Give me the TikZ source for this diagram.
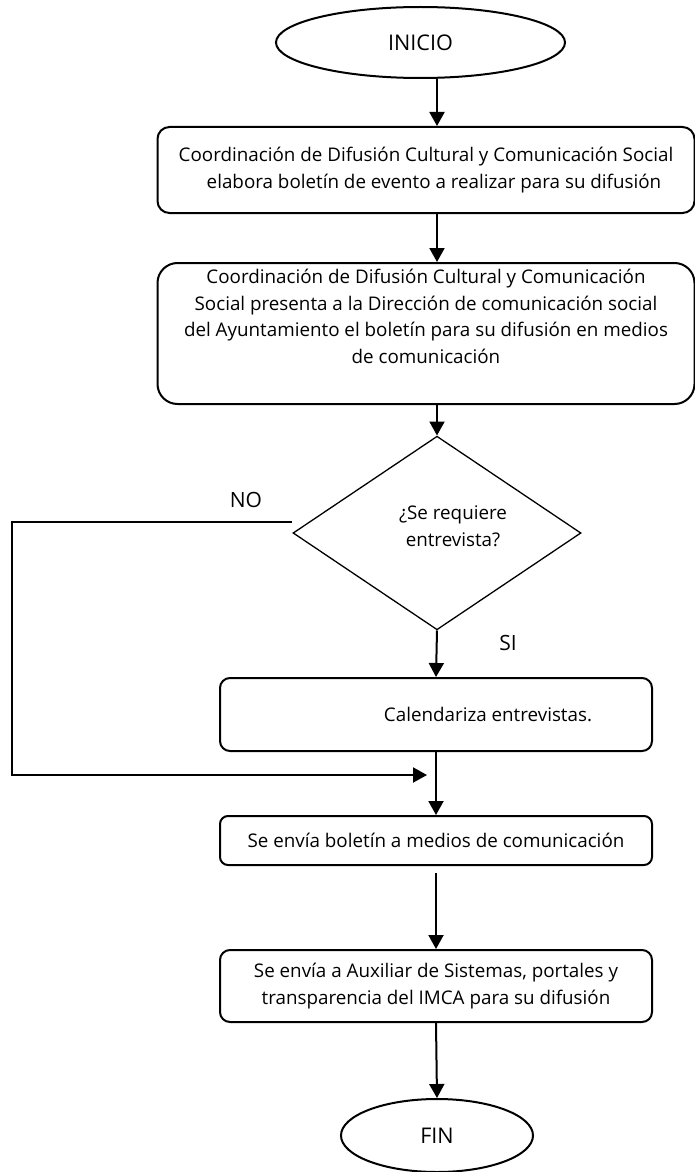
\documentclass[tikz,border=0pt]{standalone}
\usepackage{fontspec}
\setmainfont{Open Sans}
\usepackage{tikz}
\usetikzlibrary{arrows.meta,shapes.geometric,positioning}
\tikzstyle{arrow} = [line width=1pt,-{Triangle[length=7pt,width=7.5pt]}]
\tikzstyle{process} = [draw, line width=1pt, rounded corners=6pt, inner sep=0pt, align=center, font=\fontsize{9.4}{13.25}\selectfont]
\tikzstyle{startstop} = [draw, ellipse, line width=1pt, inner sep=0pt, font=\fontsize{10.8}{13.25}\selectfont]
\tikzstyle{decision} = [draw, diamond, line width=0.65pt, inner sep=0pt, align=center, font=\fontsize{9.4}{13.25}\selectfont]

\begin{document}
\begin{tikzpicture}[x=0.5pt,y=-0.5pt]
\useasboundingbox (0,0) rectangle (695,1172);
\coordinate (col) at (437,0);

% Start
\node[startstop, minimum width=144.5pt, minimum height=35.5pt] (ini) at (420.5,42.5) {INICIO};

% Steps
\node[process, minimum width=268.5pt, minimum height=43pt] (b1) at (426,170)
  {Coordinación de Difusión Cultural y Comunicación Social\\
   \hspace*{8pt}elabora boletín de evento a realizar para su difusión};
\node[process, rounded corners=10pt, minimum width=268.5pt, minimum height=70.5pt] (b2) at (426,333.5)
  {Coordinación de Difusión Cultural y Comunicación\\
   Social presenta a la Dirección de comunicación social\\
   del Ayuntamiento el boletín para su difusión en medios\\
   de comunicación\\ \strut};

% Decision
\node[decision, minimum width=144pt, minimum height=94pt] (dec) at (437,533)
  {\hspace*{16pt}¿Se requiere\\ \hspace*{16pt}entrevista?\\[-6.5pt] \mbox{}};
\node (no) at (246,500) {\fontsize{10.5}{13}\selectfont NO};
\node (si) at (508,643) {\fontsize{10.5}{13}\selectfont SI};

\node[process, rounded corners=5pt, minimum width=216pt, minimum height=36.5pt] (b3) at (436,714.5)
  {\hspace*{52pt}Calendariza entrevistas.};
\node[process, rounded corners=4pt, minimum width=216pt, minimum height=24.5pt] (b4) at (436,840.5)
  {Se envía boletín a medios de comunicación};
\node[process, rounded corners=5pt, minimum width=216pt, minimum height=36pt] (b5) at (436,986)
  {Se envía a Auxiliar de Sistemas, portales y\\
   transparencia del IMCA para su difusión};

% End
\node[startstop, minimum width=96pt, minimum height=36.5pt] (fin) at (437,1135.5) {FIN};

% Arrows
\coordinate (join) at (436,775);
\draw[arrow] (ini.south -| col) -- (b1.north -| col);
\draw[arrow] (b1.south -| col) -- (b2.north -| col);
\draw[arrow] (b2.south -| col) -- (dec.north);
\draw[arrow] (dec.south) -- (b3.north);
\draw[arrow] (b3.south) -- (b4.north);
\draw[arrow] ([yshift=5.5pt]dec.west) -- ++(-280,0) |- ([xshift=-4.5pt]join);
\draw[arrow] ([yshift=-3.5pt]b4.south) -- (b5.north);
\draw[arrow] (b5.south) -- (fin.north);
\end{tikzpicture}
\end{document}
